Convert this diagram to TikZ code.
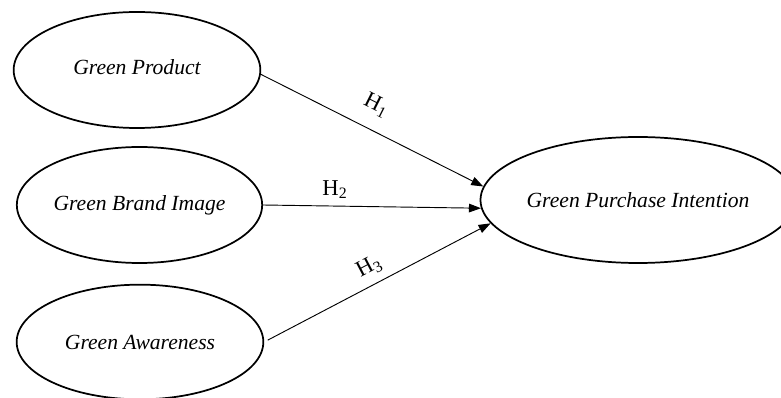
\documentclass[tikz,border=0pt]{standalone}
\usepackage{fontspec}
\setmainfont{Liberation Serif}
\usetikzlibrary{arrows.meta, positioning, shapes.geometric}
\tikzset{
    x=0.75pt, y=-0.75pt, % one unit is one pixel of the reference
    construct/.style={ellipse, draw, line width=1.3pt, inner sep=0pt, font=\fontsize{16.2}{19}\selectfont\itshape}, % sets the properties for each construct
    hyp/.style={line width=0.7pt, -{Triangle[length=9pt, width=6.5pt]}}, % hypothesis arrows
    hlabel/.style={font=\fontsize{17}{20}\selectfont, inner sep=0pt},
}

\begin{document}
\begin{tikzpicture}
                \useasboundingbox (0,0) rectangle (781,398);
                \node[construct, minimum width=185pt, minimum height=87pt] (gp) at (137,70) {\raisebox{5pt}{Green Product}};
                \node[construct, minimum width=184pt, minimum height=87pt] (gbi) at (139.5,205) {Green Brand Image};
                \node[construct, minimum width=185pt, minimum height=86pt] (ga) at (140,342) {Green Awareness};
                \node[construct, minimum width=221pt, minimum height=94.5pt] (gpi) at (638,200) {Green Purchase Intention};

                \path
                    (gp.358) edge[hyp] node[hlabel, pos=0.47, sloped, above=11pt] {H\textsubscript{1}} (gpi.175)
                    (gbi.east) edge[hyp] node[hlabel, pos=0.33, above=5pt] {H\textsubscript{2}} (gpi.183)
                    (ga.east) edge[hyp, shorten <=3pt] node[hlabel, pos=0.5, sloped, above=6pt] {H\textsubscript{3}} (gpi.189);
            \end{tikzpicture}
\end{document}
